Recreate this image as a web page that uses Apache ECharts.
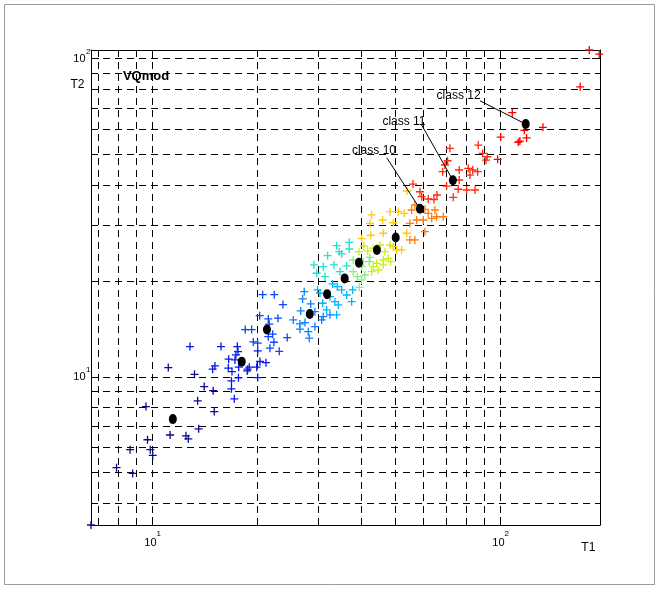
<!DOCTYPE html>
<html><head><meta charset="utf-8">
<script src="https://cdn.jsdelivr.net/npm/echarts/dist/echarts.min.js"></script>
<style>html,body{margin:0;padding:0;background:#fff}#c{width:659px;height:589px}</style>
</head><body><div id="c"></div>
<script>
// axis limits (tight to data, as in the original)
const X_MIN = 6.68, X_MAX = 193.9, Y_MIN = 3.415, Y_MAX = 106.3;
const xGrid = [7, 8, 9, 10, 20, 30, 40, 50, 60, 70, 80, 90, 100];
const yGrid = [4, 5, 6, 7, 8, 9, 10, 20, 30, 40, 50, 60, 70, 80, 90, 100];
const majorTicks = [10, 100];
const tickBase = ['10', '10'];
const tickExp = ['1', '2'];

// scatter data per class [T1, T2]
const class1 = [[6.68,3.415],[7.91,5.17],[8.80,4.96],[8.65,5.89],[9.89,5.89],[10.05,5.65],[9.71,6.33],[9.61,8.05],[11.27,6.55],[12.52,6.51],[12.72,6.37],[13.62,6.85],[13.53,8.39],[15.10,7.76],[11.14,10.67],[14.13,9.30],[14.99,9.03],[13.25,10.16]];
const class2 = [[16.92,9.69],[16.92,9.15],[17.24,8.51],[17.72,9.91],[18.78,10.42],[20.13,9.93],[14.94,10.55],[16.98,10.37],[15.17,10.80],[16.57,10.63],[17.75,10.70],[19.04,10.70],[18.84,10.55],[20.00,10.70],[16.61,11.34],[17.32,11.28],[20.43,11.15],[21.26,11.06],[17.43,11.70],[17.67,11.98],[17.59,12.42],[15.79,12.42],[12.86,12.42],[20.13,12.04]];
const class3 = [[20.80,18.09],[22.46,18.09],[23.79,16.84],[20.39,15.54],[21.59,15.18],[23.02,15.26],[18.54,14.05],[19.34,14.05],[22.23,13.59],[21.59,13.35],[24.48,13.26],[19.55,12.85],[20.13,12.73],[22.41,12.82],[21.83,12.28],[23.22,12.00],[21.73,14.61]];
const class4 = [[26.75,16.08],[25.47,15.07],[26.62,14.64],[27.52,14.78],[27.10,17.54],[27.39,18.49],[28.58,16.92],[29.40,14.36],[28.13,13.84],[28.31,13.20],[30.73,15.07],[31.06,15.43],[26.62,14.09],[29.40,16.00],[32.48,15.63]];
const class5 = [[33.06,19.55],[29.93,18.72],[30.40,18.28],[34.08,19.17],[35.09,18.72],[37.73,18.72],[36.27,18.05],[32.48,17.83],[33.56,17.20],[37.49,17.20],[34.30,16.80],[30.94,17.00],[31.77,16.20],[33.94,15.63]];
const class6 = [[33.94,25.79],[36.90,26.43],[34.53,24.70],[35.09,24.29],[31.98,23.99],[36.90,25.18],[33.34,22.43],[29.21,22.43],[29.74,21.12],[31.06,22.16],[31.42,20.61],[34.69,21.37],[36.27,22.27]];
const class7 = [[37.88,23.25],[37.88,21.37],[38.90,20.61],[39.42,19.08],[40.05,22.16],[40.47,22.97],[42.11,22.97],[42.31,23.68],[40.93,20.86],[40.05,20.13]];
const class8 = [[40.66,25.73],[39.34,24.70],[41.67,24.82],[43.24,25.31],[45.20,25.92],[48.30,25.92],[46.72,24.70],[44.22,22.71],[43.24,22.16],[44.69,21.63],[42.79,21.37],[46.20,23.25],[47.75,23.54],[46.20,22.43],[48.52,22.97]];
const class9 = [[40.05,27.13],[42.54,27.81],[42.79,32.21],[48.30,32.98],[51.03,32.98],[46.01,31.05],[49.36,30.45],[53.09,32.60],[42.31,30.32],[46.20,28.21],[53.94,28.21],[54.05,38.31],[49.36,25.60],[52.19,25.00],[50.47,25.00]];
const class10 = [[56.97,34.62],[55.75,33.39],[60.88,33.56],[62.23,32.60],[65.04,33.39],[65.78,31.80],[63.65,31.44],[60.20,31.05],[60.88,28.54],[55.12,26.88],[56.97,26.88],[57.62,31.05],[55.12,30.32],[68.72,31.80]];
const class11 = [[56.23,40.29],[58.90,38.11],[59.57,36.76],[62.23,36.15],[65.92,37.22],[64.61,36.02],[71.83,52.17],[70.74,47.69],[69.50,46.24],[68.44,44.05],[76.38,44.60],[81.08,45.15],[83.49,44.60],[86.29,44.05],[82.00,43.00],[76.38,41.48],[70.27,39.71],[75.89,38.79],[80.23,38.59],[84.78,38.59],[73.40,36.60],[86.63,53.43],[89.19,50.30],[91.94,49.09],[91.16,47.93]];
const class12 = [[108.5,67.55],[132.9,60.72],[117.5,59.42],[119.3,56.27],[112.9,54.51],[114.1,54.99],[100.5,56.59],[170.1,81.44],[180.6,106.3],[192.9,103.2],[98.49,48.17]];
const classes = [class1, class2, class3, class4, class5, class6, class7, class8, class9, class10, class11, class12];
const classColors = ['#0a0a8c','#0818e6','#0846ff','#0a80ff','#00b4ff','#18e4d0','#86f07a','#c8f020','#ffcc00','#ff7a10','#ff2a10','#ff0000'];

// class centres
const centers = [[11.48,7.35],[18.11,11.14],[21.40,14.05],[28.41,15.72],[31.87,18.16],[35.79,20.35],[39.34,22.80],[44.31,25.00],[50.18,27.37],[58.90,33.68],[73.25,41.42],[118.6,62.19]];

// annotations
const annoLabels = ['class 10', 'class 11', 'class 12'];
const annoTextPos = [[43.45,51.17],[52.99,63.33],[76.07,76.12]];
const annoLineStart = [[47.3,48.7],[59.6,61.7],[87.6,73.6]];
const annoCenter = [9, 10, 11];

const FONT = '"Liberation Sans", Arial, Helvetica, sans-serif';
const PLUS = 'path://M4.6,0h1.8v4.6h4.6v1.8h-4.6v4.6h-1.8v-4.6h-4.6v-1.8h4.6z';

function isMajor(v) { return majorTicks.indexOf(v) >= 0; }

function vGrid(params, api) {
  const v = api.value(0);
  const x = Math.round(api.coord([v, Y_MIN])[0]) + 0.5;
  const cs = params.coordSys;
  const top = cs.y, bot = cs.y + cs.height;
  const tl = isMajor(v) ? 8 : 5;
  return { type: 'group', children: [
    { type: 'line', shape: { x1: x, y1: bot, x2: x, y2: top }, style: { stroke: '#000', lineWidth: 1, lineDash: [7, 5] } },
    { type: 'line', shape: { x1: x, y1: bot, x2: x, y2: bot - tl }, style: { stroke: '#000', lineWidth: 1 } },
    { type: 'line', shape: { x1: x, y1: top, x2: x, y2: top + tl }, style: { stroke: '#000', lineWidth: 1 } }
  ]};
}
function hGrid(params, api) {
  const v = api.value(1);
  const y = Math.round(api.coord([X_MIN, v])[1]) + 0.5;
  const cs = params.coordSys;
  const left = cs.x, right = cs.x + cs.width;
  const tl = isMajor(v) ? 8 : 5;
  return { type: 'group', children: [
    { type: 'line', shape: { x1: left, y1: y, x2: right, y2: y }, style: { stroke: '#000', lineWidth: 1, lineDash: [7, 5] } },
    { type: 'line', shape: { x1: left, y1: y, x2: left + tl, y2: y }, style: { stroke: '#000', lineWidth: 1 } },
    { type: 'line', shape: { x1: right, y1: y, x2: right - tl, y2: y }, style: { stroke: '#000', lineWidth: 1 } }
  ]};
}
function xLabels(params, api) {
  const i = params.dataIndex;
  const x = api.coord([api.value(0), Y_MIN])[0];
  const bot = params.coordSys.y + params.coordSys.height;
  return { type: 'group', children: [
    { type: 'text', style: { text: tickBase[i], x: x - 1.5, y: bot + 17.5, align: 'center', verticalAlign: 'middle', fontSize: 11, fontFamily: FONT, fill: '#000' } },
    { type: 'text', style: { text: tickExp[i], x: x + 4.5, y: bot + 8.5, align: 'left', verticalAlign: 'middle', fontSize: 8, fontFamily: FONT, fill: '#000' } }
  ]};
}
function yLabels(params, api) {
  const i = params.dataIndex;
  const y = api.coord([X_MIN, api.value(1)])[1];
  const left = params.coordSys.x;
  return { type: 'group', children: [
    { type: 'text', style: { text: tickBase[i], x: left - 5.5, y: y + 0.5, align: 'right', verticalAlign: 'middle', fontSize: 11, fontFamily: FONT, fill: '#000' } },
    { type: 'text', style: { text: tickExp[i], x: left - 5, y: y - 7, align: 'left', verticalAlign: 'middle', fontSize: 8, fontFamily: FONT, fill: '#000' } }
  ]};
}
function annoItem(params, api) {
  const i = params.dataIndex;
  const p0 = api.coord([api.value(0), api.value(1)]);
  const p1 = api.coord([api.value(2), api.value(3)]);
  const pt = api.coord([api.value(4), api.value(5)]);
  return { type: 'group', children: [
    { type: 'line', shape: { x1: p0[0], y1: p0[1], x2: p1[0], y2: p1[1] }, style: { stroke: '#000', lineWidth: 1 } },
    { type: 'text', style: { text: annoLabels[i], x: pt[0], y: pt[1], align: 'center', verticalAlign: 'middle', fontSize: 12, fontFamily: FONT, fill: '#000' } }
  ]};
}

const axisCommon = { type: 'log', logBase: 10, axisTick: { show: false }, axisLabel: { show: false }, splitLine: { show: false }, minorTick: { show: false }, minorSplitLine: { show: false } };

const series = [
  { type: 'custom', renderItem: vGrid, data: xGrid.map(v => [v, Y_MIN]), encode: { x: 0, y: 1 }, silent: true, z: 1, clip: false },
  { type: 'custom', renderItem: hGrid, data: yGrid.map(v => [X_MIN, v]), encode: { x: 0, y: 1 }, silent: true, z: 1, clip: false },
  { type: 'custom', renderItem: xLabels, data: majorTicks.map(v => [v, Y_MIN]), encode: { x: 0, y: 1 }, silent: true, z: 1, clip: false },
  { type: 'custom', renderItem: yLabels, data: majorTicks.map(v => [X_MIN, v]), encode: { x: 0, y: 1 }, silent: true, z: 1, clip: false }
];
classes.forEach((d, k) => {
  series.push({ type: 'scatter', name: 'class ' + (k + 1), data: d, symbol: PLUS, symbolSize: 8,
    itemStyle: { color: classColors[k], opacity: 1 }, silent: true, z: 2, clip: false });
});
series.push({ type: 'custom', renderItem: annoItem,
  data: annoLabels.map((t, i) => [annoLineStart[i][0], annoLineStart[i][1], centers[annoCenter[i]][0], centers[annoCenter[i]][1], annoTextPos[i][0], annoTextPos[i][1]]),
  encode: { x: [0, 2, 4], y: [1, 3, 5] }, silent: true, z: 3, clip: false });
series.push({ type: 'scatter', name: 'centres', data: centers, symbol: 'circle', symbolSize: [8, 10],
  itemStyle: { color: '#000', opacity: 1 }, silent: true, z: 4, clip: false });

const chart = echarts.init(document.getElementById('c'), null, { renderer: 'canvas' });
chart.setOption({
  animation: false,
  backgroundColor: '#fff',
  grid: { left: 91, top: 50, width: 509, height: 475, show: false },
  xAxis: [
    Object.assign({}, axisCommon, { position: 'bottom', min: X_MIN, max: X_MAX, axisLine: { show: true, onZero: false, lineStyle: { color: '#000', width: 1 } } }),
    Object.assign({}, axisCommon, { position: 'top', min: X_MIN, max: X_MAX, axisLine: { show: true, onZero: false, lineStyle: { color: '#000', width: 1 } } })
  ],
  yAxis: [
    Object.assign({}, axisCommon, { position: 'left', min: Y_MIN, max: Y_MAX, axisLine: { show: true, onZero: false, lineStyle: { color: '#000', width: 1 } } }),
    Object.assign({}, axisCommon, { position: 'right', min: Y_MIN, max: Y_MAX, axisLine: { show: true, onZero: false, lineStyle: { color: '#000', width: 1 } } })
  ],
  graphic: [
    { type: 'rect', shape: { x: 4.5, y: 4.5, width: 650, height: 580 }, style: { fill: 'none', stroke: '#9a9a9a', lineWidth: 1 }, silent: true },
    { type: 'text', x: 77.5, y: 84.7, style: { text: 'T2', align: 'center', verticalAlign: 'middle', fontSize: 12, fontFamily: FONT, fill: '#000' }, silent: true },
    { type: 'text', x: 588.3, y: 547.5, style: { text: 'T1', align: 'center', verticalAlign: 'middle', fontSize: 12, fontFamily: FONT, fill: '#000' }, silent: true },
    { type: 'text', x: 146, y: 76.7, style: { text: 'VQmod', align: 'center', verticalAlign: 'middle', fontSize: 13, fontWeight: 'bold', fontFamily: FONT, fill: '#000' }, silent: true }
  ],
  series: series
});
</script>
</body></html>
